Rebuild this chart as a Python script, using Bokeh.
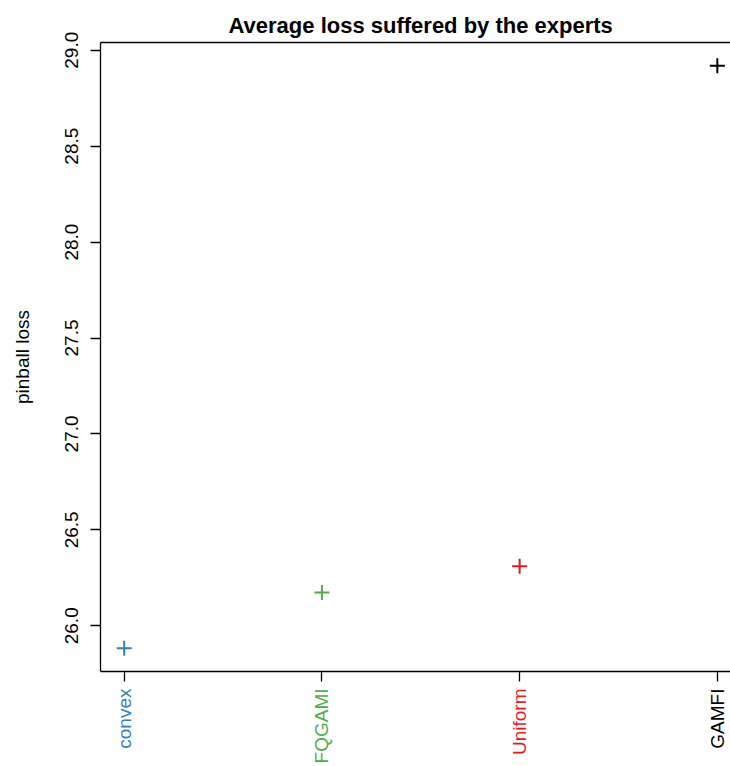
import math
from bokeh.plotting import figure
from bokeh.layouts import column
from bokeh.models import (Range1d, FixedTicker, LinearAxis, ColumnDataSource,
                          NumeralTickFormatter)
from bokeh.core.properties import value
from bokeh.embed import file_html
from bokeh.resources import INLINE

# ---- data ----
experts = ["convex", "FQGAMI", "Uniform", "GAMFI"]
avg_loss = [25.883, 26.174, 26.31, 28.919]
colors = ["#377EB8", "#4DAF4A", "#E41A1C", "#000000"]
y_ticks = [26.0, 26.5, 27.0, 27.5, 28.0, 28.5, 29.0]

FONT = "Liberation Sans"
xs = list(range(1, len(experts) + 1))

# R-style 4% range extension
ymin, ymax = min(avg_loss), max(avg_loss)
ypad = 0.04 * (ymax - ymin)
xpad = 0.04 * (len(experts) - 1)

frame_w = 630
x_start = 1 - xpad
x_end = x_start + frame_w / 197.7
xr = Range1d(x_start, x_end)

p = figure(width=730, height=686, output_backend="svg", toolbar_location=None,
           x_range=xr,
           y_range=Range1d(ymin - ypad, ymax + ypad),
           min_border_left=100, min_border_right=0, min_border_top=42,
           min_border_bottom=15, x_axis_type=None, y_axis_type=None)
p.grid.visible = False
p.outline_line_color = None
p.background_fill_color = "white"
p.border_fill_color = "white"

p.title.text = "Average loss suffered by the experts"
p.title.align = "left"
p.title.offset = 128
p.title.text_color = "black"
p.title.text_font = FONT
p.title.text_font_size = "22px"
p.title.text_font_style = "bold"

# left axis
ya = LinearAxis(ticker=FixedTicker(ticks=y_ticks),
                formatter=NumeralTickFormatter(format="0.0"))
ya.axis_label = "pinball loss"
ya.axis_label_text_font = FONT
ya.axis_label_text_color = "black"
ya.axis_label_text_font_size = "19px"
ya.axis_label_text_font_style = "normal"
ya.axis_label_standoff = 30
ya.major_label_orientation = "vertical"
ya.major_label_text_font = FONT
ya.major_label_text_color = "black"
ya.major_label_text_font_size = "19px"
ya.major_label_standoff = 12
ya.major_tick_out = 10
ya.major_tick_in = 0
ya.minor_tick_line_color = None
ya.axis_line_width = 1.3
ya.major_tick_line_width = 1.3
p.add_layout(ya, "left")

# bottom axis (ticks only; coloured labels drawn in the strip below)
xa = LinearAxis(ticker=FixedTicker(ticks=xs))
xa.major_label_overrides = {x: "" for x in xs}
xa.major_label_standoff = 0
xa.major_tick_out = 10
xa.major_tick_in = 0
xa.minor_tick_line_color = None
xa.axis_line_width = 1.3
xa.major_tick_line_width = 1.3
p.add_layout(xa, "below")

# top box line
ta = LinearAxis(ticker=FixedTicker(ticks=[]))
ta.major_tick_line_color = None
ta.minor_tick_line_color = None
ta.axis_line_width = 1.3
p.add_layout(ta, "above")

src = ColumnDataSource(dict(x=xs, y=avg_loss, color=colors))
p.scatter("x", "y", source=src, marker="cross", size=15, line_width=2,
          line_color="color")

# strip below holding the coloured category labels (shares the x range)
p2 = figure(width=730, height=80, output_backend="svg", toolbar_location=None,
            x_range=xr, y_range=Range1d(0, 1),
            min_border_left=100, min_border_right=0, min_border_top=0,
            min_border_bottom=0, x_axis_type=None, y_axis_type=None)
p2.grid.visible = False
p2.outline_line_color = None
p2.background_fill_color = "white"
p2.border_fill_color = "white"

lsrc = ColumnDataSource(dict(x=xs, y=[1] * len(xs), name=experts, color=colors))
p2.text("x", "y", text="name", source=lsrc, angle=math.pi / 2, y_offset=2,
        text_align="right", text_baseline="middle", text_color="color",
        text_font=value(FONT), text_font_size="19px")

layout = column(p, p2, spacing=0)
open("out.html", "w").write(file_html(layout, INLINE))
